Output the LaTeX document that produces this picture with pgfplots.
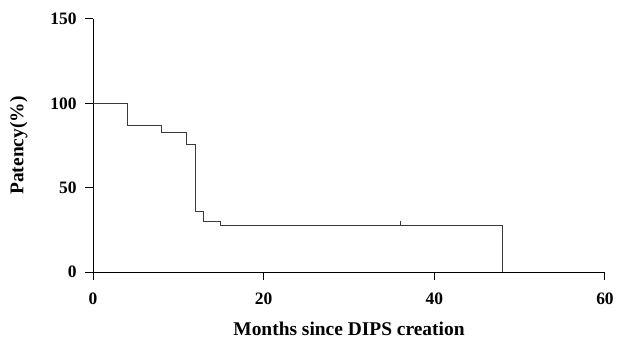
\documentclass[border=0pt]{standalone}
\usepackage{fontspec}
\setmainfont{Liberation Serif}
\usepackage{pgfplots}
\pgfplotsset{compat=1.18}
\definecolor{curve}{HTML}{3A3A3A}
\begin{document}
\begin{tikzpicture}
\useasboundingbox (0,0) rectangle (617bp,341bp);
\begin{axis}[
  at={(93bp,69bp)}, anchor=south west,
  scale only axis, width=512bp, height=253bp,
  xmin=0, xmax=60, ymin=0, ymax=150,
  xtick={0,20,40,60}, ytick={0,50,100,150},
  axis x line*=bottom, axis y line*=left,
  axis line style={black, line width=1bp},
  tick align=outside, major tick length=8bp,
  tick style={black, line width=1bp},
  minor tick num=0,
  /pgf/number format/assume math mode=true,
  tick label style={font=\bfseries\fontsize{17.5}{17.5}\selectfont},
  xticklabel style={yshift=-9bp},
  yticklabel style={xshift=-5bp},
  xlabel={Months since DIPS creation},
  ylabel={Patency(\%)},
  label style={font=\bfseries\fontsize{19.5}{19.5}\selectfont},
  xlabel style={yshift=-11bp},
  ylabel style={yshift=16bp},
  clip=false,
]
\addplot[const plot, color=curve, line width=1bp] coordinates {
  (0,100) (4,87) (8,83) (11,75.5) (12,35.7) (13,29.8) (15,27.4) (48,0)
};
\addplot[only marks, mark=|, color=curve, mark size=2.5bp,
  mark options={yshift=2.5bp, line width=1bp}] coordinates {(36,27.4)};
\end{axis}
\end{tikzpicture}
\end{document}
